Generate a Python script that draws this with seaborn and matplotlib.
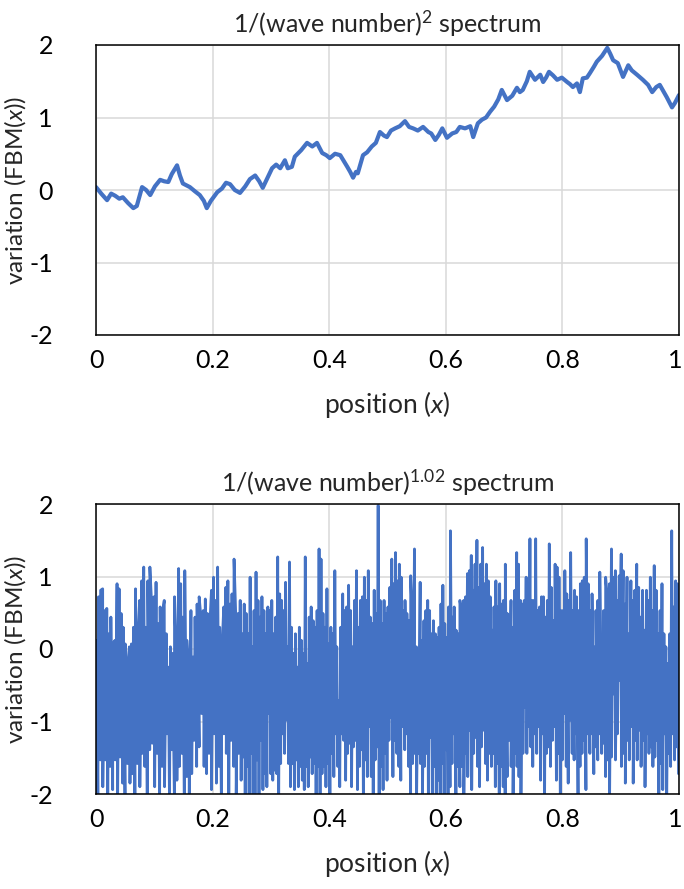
import numpy as np
import pandas as pd
import matplotlib
matplotlib.use("Agg")
import matplotlib.pyplot as plt
import matplotlib.transforms as mtransforms
import seaborn as sns

# ---------------- data ----------------
top_x = [0.000, 0.009, 0.019, 0.026, 0.033, 0.040, 0.046, 0.055, 0.064, 0.070,
         0.079, 0.086, 0.093, 0.101, 0.110, 0.117, 0.124, 0.130, 0.139, 0.144,
         0.149, 0.156, 0.161, 0.170, 0.178, 0.185, 0.190, 0.197, 0.208, 0.216,
         0.223, 0.230, 0.238, 0.247, 0.256, 0.264, 0.273, 0.280, 0.286, 0.295,
         0.302, 0.309, 0.316, 0.324, 0.329, 0.336, 0.341, 0.352, 0.362, 0.371,
         0.379, 0.388, 0.395, 0.401, 0.410, 0.419, 0.425, 0.431, 0.436, 0.441,
         0.446, 0.449, 0.458, 0.465, 0.473, 0.480, 0.487, 0.494, 0.499, 0.506,
         0.513, 0.521, 0.530, 0.537, 0.544, 0.552, 0.561, 0.570, 0.575, 0.582,
         0.588, 0.594, 0.602, 0.611, 0.618, 0.624, 0.633, 0.642, 0.647, 0.655,
         0.662, 0.669, 0.676, 0.683, 0.690, 0.696, 0.705, 0.714, 0.722, 0.727,
         0.732, 0.739, 0.744, 0.753, 0.762, 0.767, 0.772, 0.777, 0.784, 0.791,
         0.799, 0.808, 0.813, 0.818, 0.825, 0.830, 0.835, 0.842, 0.847, 0.854,
         0.859, 0.868, 0.877, 0.882, 0.887, 0.895, 0.904, 0.913, 0.919, 0.928,
         0.938, 0.947, 0.954, 0.961, 0.967, 0.974, 0.979, 0.988, 0.993, 1.000]
top_y = [0.04, -0.05, -0.14, -0.05, -0.08, -0.12, -0.10, -0.18, -0.25, -0.22,
         0.04, 0.00, -0.07, 0.05, 0.14, 0.12, 0.11, 0.22, 0.34, 0.20,
         0.09, 0.06, 0.04, -0.02, -0.07, -0.15, -0.25, -0.15, -0.03, 0.02,
         0.10, 0.08, 0.00, -0.04, 0.05, 0.15, 0.20, 0.12, 0.03, 0.18,
         0.30, 0.35, 0.30, 0.41, 0.30, 0.32, 0.46, 0.55, 0.65, 0.60,
         0.65, 0.51, 0.48, 0.44, 0.50, 0.48, 0.40, 0.32, 0.25, 0.17,
         0.25, 0.23, 0.48, 0.52, 0.60, 0.65, 0.80, 0.75, 0.73, 0.82,
         0.85, 0.88, 0.95, 0.87, 0.85, 0.82, 0.87, 0.80, 0.78, 0.69,
         0.76, 0.85, 0.72, 0.78, 0.80, 0.87, 0.85, 0.88, 0.73, 0.92,
         0.97, 1.00, 1.08, 1.15, 1.25, 1.38, 1.24, 1.30, 1.41, 1.35,
         1.38, 1.50, 1.63, 1.52, 1.59, 1.49, 1.55, 1.63, 1.58, 1.52,
         1.55, 1.49, 1.46, 1.42, 1.47, 1.35, 1.54, 1.55, 1.61, 1.70,
         1.77, 1.85, 1.96, 1.88, 1.79, 1.75, 1.56, 1.72, 1.65, 1.59,
         1.52, 1.45, 1.35, 1.42, 1.45, 1.35, 1.28, 1.14, 1.20, 1.31]

# bottom panel: spike tips (upper) and troughs (lower), per quarter of the x range
upper_q1 = [0.12, 0.72, 0.81, 0.83, 0.53, 0.56, 0.21, 0.44, 0.07, 0.12, 0.90, 0.83, 0.49, 0.30,
            0.07, -0.25, 0.03, 0.07, 0.30, 0.83, 0.03, 0.67, 0.94, 1.13, 0.30, 0.94, 1.13, 0.53,
            0.72, 0.92, 0.35, 0.58, 0.49, 0.67, 0.21, -0.25, 0.03, -0.06, 0.72, -0.25, 1.11, 0.90,
            0.44, 1.08, 0.12, -0.34, 0.53, -0.11, 0.44, 0.62, 0.72, 0.39, 0.53, 0.69, 0.49, 0.21,
            0.81, 0.99, 0.67, 1.13, 0.30, -0.06, 0.58, 0.85, 0.94, 0.62, 0.76, 1.24, 0.30, 0.49, 0.67]
lower_q1 = [-2.1, -1.53, -1.90, -1.53, -2.1, -1.62, -1.94, -1.53, -2.1, -1.49, -1.85, -2.1, -1.58,
            -1.85, -1.72, -2.1, -1.58, -1.90, -1.44, -1.62, -2.1, -1.39, -1.30, -1.90, -1.44, -2.1,
            -1.62, -1.90, -1.17, -2.1, -1.39, -2.1, -1.81, -1.62, -1.44, -2.1, -1.76, -2.1, -1.72,
            -1.26, -1.62, -1.35, -0.89, -1.62, -1.72, -1.44, -1.94, -1.17, -1.85, -1.62, -2.1, -1.17,
            -1.44, -2.1, -1.26, -1.62, -2.1, -1.44, -1.81]
upper_q2 = [0.21, 0.62, 0.49, 0.21, 0.99, 0.03, 0.53, 1.06, 0.67, 0.44, 0.72, 0.53, 0.21, 0.58,
            0.53, 0.67, 0.21, 0.44, 1.27, 0.76, 0.67, 0.53, 0.92, 0.03, 1.20, 0.30, -0.06, 0.21,
            -0.25, 0.30, 0.12, -0.06, 1.27, -0.20, 0.44, 0.58, 0.39, 0.30, 0.53, 1.38, 1.24, 0.49,
            0.30, 0.83, 0.07, 0.30, 0.21, 1.08, 0.03, -0.71, 0.30, 0.76, 0.53, 0.58, 0.88, 0.53,
            0.03, 0.67, 1.08, 0.30, 0.67, 0.72, 0.99, 0.67, 1.08, 0.44, 0.35, 0.81, 0.49, 1.98,
            0.67, 0.35, 0.67, 0.49]
lower_q2 = [-1.49, -2.1, -1.62, -2.1, -1.44, -2.1, -2.1, -1.53, -2.1, -1.26, -1.94, -1.72, -1.90,
            -0.89, -1.72, -1.81, -1.67, -1.72, -2.1, -1.58, -1.17, -1.44, -0.98, -1.58, -1.90,
            -1.58, -1.94, -1.53, -1.90, -1.62, -1.81, -1.94, -1.62, -1.90, -1.49, -1.72, -1.58,
            -2.1, -1.62, -2.1, -1.72, -1.62, -1.90, -1.58, -2.1, -1.44, -1.76, -1.17, -1.62, -1.90,
            -1.17, -1.26, -1.81, -1.44, -1.30, -1.90, -1.35, -1.26, -1.94, -1.62, -1.39, -2.1,
            -1.53, -1.76, -1.07, -1.76, -2.1, -1.53, -1.35, -2.1, -1.62, -1.94, -1.44, -1.81]
upper_q3 = [0.58, 0.85, 1.24, 0.90, 1.33, 0.94, 1.17, 0.99, 0.53, 0.67, 0.49, 0.39, 1.01, 0.30,
            1.38, 0.03, -0.02, 0.92, 0.12, 0.39, 0.53, 0.67, 0.53, 0.21, 0.39, 0.21, 0.16, 0.30,
            0.62, 0.88, 0.35, 0.16, 0.58, 1.63, 0.44, 0.58, 0.26, 0.21, 0.67, 0.49, 0.67, 0.72,
            1.04, 1.08, 1.29, 0.81, 1.17, 1.50, 0.85, 1.17, 1.40, 0.90, 1.17, 0.94, 0.72, 0.26,
            0.58, 0.94, 0.58, 0.90, 0.62, 0.67, 1.17, 0.49, 0.44, 0.67, 0.30, 0.81, 1.33, 1.17,
            0.67, 0.62, 0.67, 0.99, 0.90, 1.52, 0.67]
lower_q3 = [-1.26, -0.94, -1.76, -1.26, -1.44, -1.62, -1.81, -1.07, -1.39, -1.17, -1.62, -2.1,
            -1.58, -1.44, -2.1, -1.44, -1.58, -2.1, -1.62, -1.44, -2.1, -1.22, -2.1, -1.62, -2.1,
            -1.81, -2.1, -1.58, -2.1, -1.39, -2.1, -1.90, -1.58, -1.17, -2.1, -1.62, -1.90, -1.62,
            -2.1, -1.44, -1.76, -1.12, -1.94, -1.44, -1.22, -1.62, -1.90, -1.35, -1.12, -1.58,
            -1.81, -1.44, -1.62, -1.44, -1.90, -1.58, -2.1, -1.62, -1.90, -2.1, -1.76, -1.26,
            -1.62, -2.1, -1.44, -1.62, -1.76, -2.1, -1.44, -0.80, -1.44, -1.07, -1.35, -1.62]
upper_q4 = [0.67, 1.52, 0.53, 0.58, 0.72, 0.72, 0.44, 0.67, 1.45, 0.85, 0.39, 1.17, 1.13, 0.99,
            0.53, 0.53, 1.08, 0.76, 0.67, 1.33, 0.53, 0.81, 0.72, 0.53, 0.90, 0.94, 0.99, 1.52,
            0.90, 0.53, 0.76, 0.03, 0.53, 0.67, 1.06, 0.03, 0.53, 0.99, 0.67, 0.90, 1.38, 0.99,
            1.08, 0.67, 1.01, 1.31, 1.08, 0.62, 0.99, 0.21, 0.94, 0.67, 0.81, 1.17, 0.85, 0.44,
            0.81, 0.26, 0.81, 0.67, 0.99, 0.53, 1.15, 0.81, 0.21, 0.53, 0.90, 0.21, 0.03, -0.20,
            0.21, 1.63, 0.58, 0.94, 0.90]
lower_q4 = [-1.17, -1.44, -1.07, -1.81, -1.17, -2.1, -1.44, -1.35, -1.62, -1.26, -1.07, -1.81,
            -1.44, -2.1, -1.53, -0.89, -1.62, -1.85, -0.98, -1.44, -1.53, -1.17, -2.1, -1.62,
            -1.44, -1.26, -1.94, -1.17, -1.44, -1.17, -1.72, -1.35, -1.53, -1.17, -1.44, -1.30,
            -1.76, -1.53, -2.1, -1.49, -0.62, -1.53, -1.17, -0.43, -1.62, -1.44, -1.85, -1.26,
            -1.53, -1.07, -1.85, -1.26, -1.53, -1.12, -1.62, -1.26, -1.90, -1.17, -1.44, -1.35,
            -1.62, -1.49, -1.26, -2.1, -1.58, -1.94, -1.17, -2.1, -1.44, -1.62, -1.17, -1.53,
            -1.35, -1.72]

x_ticks = [0, 0.2, 0.4, 0.6, 0.8, 1]
x_tick_labels = ["0", "0.2", "0.4", "0.6", "0.8", "1"]
y_ticks = [-2, -1, 0, 1, 2]
y_tick_labels = ["-2", "-1", "0", "1", "2"]
titles = ["1/(wave number)$^{2}$ spectrum", "1/(wave number)$^{1.02}$ spectrum"]
x_label = "position ($x$)"
y_label = "variation (FBM($x$))"

# ---------------- build bottom series ----------------
bx, by = [], []
for k, (up, lo) in enumerate([(upper_q1, lower_q1), (upper_q2, lower_q2),
                              (upper_q3, lower_q3), (upper_q4, lower_q4)]):
    for i, v in enumerate(up):
        bx.append(k / 4 + (i + 0.25) / len(up) / 4)
        by.append(v)
    for i, v in enumerate(lo):
        bx.append(k / 4 + (i + 0.75) / len(lo) / 4)
        by.append(v)
bottom = pd.DataFrame({"x": bx, "y": by}).sort_values("x").reset_index(drop=True)
top = pd.DataFrame({"x": top_x, "y": top_y})

# ---------------- style ----------------
sns.set_theme(style="white")
plt.rcParams["font.family"] = ["Lato", "DejaVu Sans"]
plt.rcParams["mathtext.fontset"] = "custom"
plt.rcParams["mathtext.rm"] = "Lato"
plt.rcParams["mathtext.it"] = "Lato:italic"
plt.rcParams["axes.unicode_minus"] = False

blue = "#4472C4"
fig = plt.figure(figsize=(6.84, 8.89), dpi=100)
ax1 = fig.add_axes([96 / 684, 1 - 335 / 889, 583 / 684, 290 / 889])
ax2 = fig.add_axes([96 / 684, 1 - 794 / 889, 583 / 684, 290 / 889])

sns.lineplot(data=top, x="x", y="y", ax=ax1, color=blue, linewidth=3.0,
             estimator=None, sort=False)
sns.lineplot(data=bottom, x="x", y="y", ax=ax2, color=blue, linewidth=2.0,
             estimator=None, sort=False)

for ax, t in zip([ax1, ax2], titles):
    ax.set_xlim(0, 1)
    ax.set_ylim(-2, 2)
    ax.set_xticks(x_ticks)
    ax.set_xticklabels(x_tick_labels)
    ax.set_yticks(y_ticks)
    ax.set_yticklabels(y_tick_labels)
    ax.grid(True, color="#d9d9d9", linewidth=1.1)
    ax.set_axisbelow(True)
    for s in ax.spines.values():
        s.set_color("black")
        s.set_linewidth(1.1)
    ax.tick_params(axis="both", direction="in", length=5, width=1.1,
                   color="black", labelsize=18, labelcolor="black")
    ax.tick_params(axis="x", pad=10)
    ax.tick_params(axis="y", pad=31)
    ax.set_xlabel(x_label, fontsize=19, labelpad=12)
    ax.set_ylabel(y_label, fontsize=17.5)
    ax.yaxis.set_label_coords(-0.116, 0.5)
    ax.set_title(t, fontsize=18, pad=9)
    last = ax.get_xticklabels()[-1]
    last.set_transform(last.get_transform() +
                       mtransforms.ScaledTranslation(-4 / 100, 0, fig.dpi_scale_trans))

fig.savefig("out.png", dpi=100)
